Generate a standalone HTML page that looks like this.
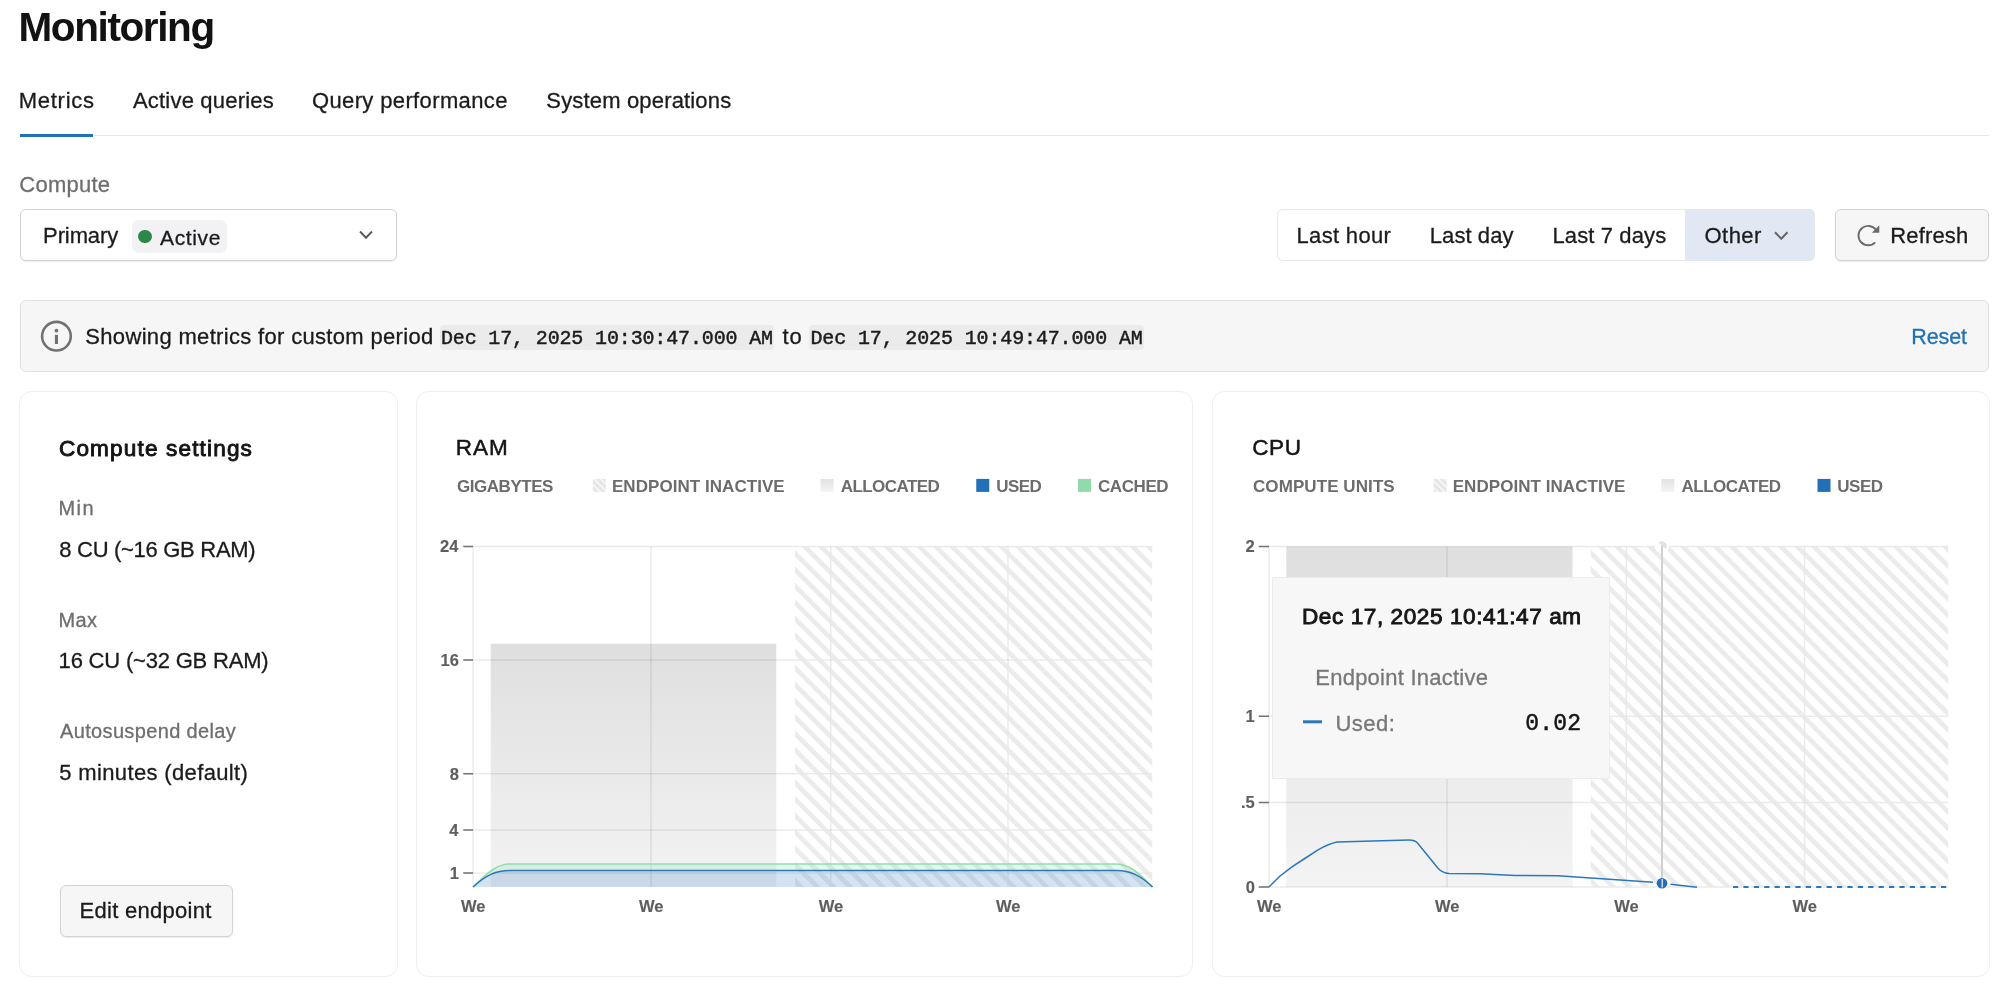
<!DOCTYPE html>
<html><head><meta charset="utf-8"><title>Monitoring</title>
<style>
html,body{margin:0;padding:0;background:#fff}
body{width:2000px;height:988px;position:relative;overflow:hidden;font-family:"Liberation Sans",sans-serif}
.t{position:absolute;white-space:nowrap;line-height:1;-webkit-text-stroke:0.3px currentColor}
#tx{position:absolute;left:0;top:0;width:2000px;height:988px;will-change:transform}
.b{position:absolute;box-sizing:border-box}
svg{position:absolute;left:0;top:0}
</style></head><body>
<div class="b" style="left:20px;top:134.5px;width:1968.5px;height:1.5px;background:#e6e6e6"></div>
<div class="b" style="left:19.5px;top:134px;width:73.5px;height:3px;background:#2170bb"></div>
<div class="b" style="left:19.5px;top:209px;width:377.5px;height:52px;border:1.5px solid #d3d3d3;border-radius:6px;background:#fff;box-shadow:0 1px 1.5px rgba(0,0,0,.07)"></div>
<div class="b" style="left:132px;top:220px;width:95px;height:33px;border-radius:7px;background:#f2f2f4"></div>
<div class="b" style="left:138.2px;top:229.5px;width:13.8px;height:13.8px;border-radius:50%;background:#2c8749"></div>
<div class="b" style="left:1277px;top:209px;width:538px;height:52px;border:1.5px solid #e7e7e7;border-radius:6px;background:#fff"></div>
<div class="b" style="left:1685px;top:209px;width:130px;height:52px;border-radius:0 6px 6px 0;background:#e1e8f4"></div>
<div class="b" style="left:1835px;top:209px;width:153.75px;height:52px;border:1.5px solid #d3d3d3;border-radius:6px;background:#f6f6f6;box-shadow:0 1px 1.5px rgba(0,0,0,.08)"></div>
<div class="b" style="left:19.5px;top:300px;width:1969.25px;height:71.5px;border:1.5px solid #dedede;border-radius:6px;background:#f6f6f6"></div>
<div class="b" style="left:440px;top:325px;width:333.75px;height:25px;border-radius:4px;background:#ebebeb"></div>
<div class="b" style="left:809.25px;top:325px;width:334.5px;height:25px;border-radius:4px;background:#ebebeb"></div>
<div class="b" style="left:19px;top:391px;width:379px;height:586.2px;border:1.7px solid #eeeeee;border-radius:12.5px"></div>
<div class="b" style="left:415.9px;top:391px;width:777.5px;height:586.2px;border:1.7px solid #eeeeee;border-radius:12.5px"></div>
<div class="b" style="left:1211.5px;top:391px;width:778.25px;height:586.2px;border:1.7px solid #eeeeee;border-radius:12.5px"></div>
<div class="b" style="left:59.5px;top:884.75px;width:173.25px;height:51.75px;border:1.5px solid #d3d3d3;border-radius:6px;background:#f6f6f6;box-shadow:0 1px 1.5px rgba(0,0,0,.08)"></div>
<svg width="2000" height="988" viewBox="0 0 2000 988">
<defs>
<pattern id="h1" patternUnits="userSpaceOnUse" width="11.59" height="11.59" patternTransform="translate(9 0) rotate(-45)"><rect x="0" y="0" width="4.6" height="11.59" fill="#e8e8e8" fill-opacity=".87"/></pattern>
<pattern id="h2" patternUnits="userSpaceOnUse" width="11.59" height="11.59" patternTransform="translate(1.9 0) rotate(-45)"><rect x="0" y="0" width="4.6" height="11.59" fill="#e8e8e8" fill-opacity=".87"/></pattern>
<pattern id="hs" patternUnits="userSpaceOnUse" width="4.7" height="4.7" patternTransform="translate(1.2 0) rotate(-45)"><rect x="0" y="0" width="1.15" height="4.7" fill="#fff"/></pattern>
<linearGradient id="ga" x1="0" y1="0" x2="0" y2="1"><stop offset="0" stop-color="#dfdfdf"/><stop offset="1" stop-color="#f3f3f3"/></linearGradient>
<linearGradient id="gs" x1="0" y1="0" x2="0" y2="1"><stop offset="0" stop-color="#e2e2e2"/><stop offset="1" stop-color="#f4f4f4"/></linearGradient>
</defs>
<rect x="490.75" y="643.75" width="285.5" height="243.25" fill="url(#ga)"/>
<line x1="473" y1="546.5" x2="1152.2" y2="546.5" stroke="rgba(0,0,0,.082)" stroke-width="1.5"/>
<line x1="473" y1="660" x2="1152.2" y2="660" stroke="rgba(0,0,0,.082)" stroke-width="1.5"/>
<line x1="473" y1="773.75" x2="1152.2" y2="773.75" stroke="rgba(0,0,0,.082)" stroke-width="1.5"/>
<line x1="473" y1="830" x2="1152.2" y2="830" stroke="rgba(0,0,0,.082)" stroke-width="1.5"/>
<line x1="473" y1="873" x2="1152.2" y2="873" stroke="rgba(0,0,0,.082)" stroke-width="1.5"/>
<line x1="473" y1="546.5" x2="473" y2="887" stroke="rgba(0,0,0,.082)" stroke-width="1.5"/>
<line x1="651" y1="546.5" x2="651" y2="887" stroke="rgba(0,0,0,.082)" stroke-width="1.5"/>
<line x1="830.75" y1="546.5" x2="830.75" y2="887" stroke="rgba(0,0,0,.082)" stroke-width="1.5"/>
<line x1="1008" y1="546.5" x2="1008" y2="887" stroke="rgba(0,0,0,.082)" stroke-width="1.5"/>
<line x1="463.25" y1="546.5" x2="473" y2="546.5" stroke="#777" stroke-width="1.6"/>
<line x1="463.25" y1="660" x2="473" y2="660" stroke="#777" stroke-width="1.6"/>
<line x1="463.25" y1="773.75" x2="473" y2="773.75" stroke="#777" stroke-width="1.6"/>
<line x1="463.25" y1="830" x2="473" y2="830" stroke="#777" stroke-width="1.6"/>
<line x1="463.25" y1="873" x2="473" y2="873" stroke="#777" stroke-width="1.6"/>
<rect x="795" y="546.5" width="357.2" height="340.5" fill="url(#h1)"/>
<path d="M473,887 C485,876 495,864 510,864 L1116,864 C1131,864 1141,876 1152.5,887 L1152.5,887 C1141,876 1131,870.6 1116,870.6 L510,870.6 C495,870.6 485,876 473,887 Z" fill="#8fdcaa" fill-opacity=".24"/>
<path d="M473,887 C485,876 495,870.6 510,870.6 L1116,870.6 C1131,870.6 1141,876 1152.5,887 Z" fill="#2271b8" fill-opacity=".2"/>
<path d="M473,887 C485,876 495,864 510,864 L1116,864 C1131,864 1141,876 1152.5,887" fill="none" stroke="#93dcad" stroke-width="1.6"/>
<path d="M473,887 C485,876 495,870.6 510,870.6 L1116,870.6 C1131,870.6 1141,876 1152.5,887" fill="none" stroke="#2b77bb" stroke-width="1.5"/>
<rect x="1286.25" y="546.5" width="286.25" height="340.5" fill="url(#ga)"/>
<line x1="1269" y1="546.5" x2="1948.25" y2="546.5" stroke="rgba(0,0,0,.082)" stroke-width="1.5"/>
<line x1="1269" y1="716.25" x2="1948.25" y2="716.25" stroke="rgba(0,0,0,.082)" stroke-width="1.5"/>
<line x1="1269" y1="802.5" x2="1948.25" y2="802.5" stroke="rgba(0,0,0,.082)" stroke-width="1.5"/>
<line x1="1269" y1="887" x2="1948.25" y2="887" stroke="rgba(0,0,0,.082)" stroke-width="1.5"/>
<line x1="1269" y1="546.5" x2="1269" y2="887" stroke="rgba(0,0,0,.082)" stroke-width="1.5"/>
<line x1="1447" y1="546.5" x2="1447" y2="887" stroke="rgba(0,0,0,.082)" stroke-width="1.5"/>
<line x1="1626.25" y1="546.5" x2="1626.25" y2="887" stroke="rgba(0,0,0,.082)" stroke-width="1.5"/>
<line x1="1804.5" y1="546.5" x2="1804.5" y2="887" stroke="rgba(0,0,0,.082)" stroke-width="1.5"/>
<line x1="1258.75" y1="546.5" x2="1269" y2="546.5" stroke="#777" stroke-width="1.6"/>
<line x1="1258.75" y1="716.25" x2="1269" y2="716.25" stroke="#777" stroke-width="1.6"/>
<line x1="1258.75" y1="802.5" x2="1269" y2="802.5" stroke="#777" stroke-width="1.6"/>
<line x1="1258.75" y1="887" x2="1269" y2="887" stroke="#777" stroke-width="1.6"/>
<rect x="1590.75" y="546.5" width="357.5" height="340.5" fill="url(#h2)"/>
<circle cx="1662" cy="546.2" r="7" fill="#fff"/><path d="M1662,546.2 L1658.6,542.6 A5,5 0 0 1 1666.3,548.7 Z" fill="#e2e2e2"/><line x1="1662" y1="546" x2="1662" y2="887" stroke="#d1d1d1" stroke-width="2"/>
<path d="M1269,887 L1280,876 L1292,866.8 L1304,859 L1318,849.8 C1324,846.5 1330,843.5 1337,842 L1409,840.1 C1413,840 1415,840.5 1417.5,843 L1438,868.2 C1441,871.5 1444,873 1449,873.4 L1480,873.7 L1515,875.5 L1558,875.8 L1653,882.2" fill="none" stroke="#2b77bb" stroke-width="1.5"/>
<path d="M1670.5,884.3 L1697,887.3" fill="none" stroke="#2b77bb" stroke-width="1.5"/>
<line x1="1733" y1="887" x2="1948" y2="887" stroke="#2b77bb" stroke-width="2.2" stroke-dasharray="5.2 5.2"/>
<circle cx="1662" cy="883.3" r="5.3" fill="#2271b8"/>
<line x1="1662.25" y1="879" x2="1662.25" y2="887.5" stroke="#c9d3de" stroke-width="1.6"/>
<rect x="592.75" y="478.9" width="13" height="13" fill="#e6e6e6"/><rect x="592.75" y="478.9" width="13" height="13" fill="url(#hs)"/>
<rect x="820.5" y="478.9" width="13" height="13" fill="url(#gs)"/>
<rect x="976.25" y="478.9" width="13" height="13" fill="#2271b8"/>
<rect x="1078" y="478.9" width="13" height="13" fill="#8fdcaa"/>
<rect x="1433.75" y="478.9" width="13" height="13" fill="#e6e6e6"/><rect x="1433.75" y="478.9" width="13" height="13" fill="url(#hs)"/>
<rect x="1661.25" y="478.9" width="13" height="13" fill="url(#gs)"/>
<rect x="1817.5" y="478.9" width="13" height="13" fill="#2271b8"/>
<polyline points="360,231.5 366,237.7 372,231.5" fill="none" stroke="#5c5c5c" stroke-width="2"/>
<polyline points="1775,232.3 1781.25,238.7 1787.5,232.3" fill="none" stroke="#666" stroke-width="2"/>
<circle cx="56.45" cy="336.2" r="14.35" fill="none" stroke="#727272" stroke-width="2.6"/><rect x="54.9" y="334.8" width="3.1" height="9.2" fill="#727272"/><circle cx="56.45" cy="330.6" r="1.9" fill="#727272"/>
<path d="M1875.84,229.63 A9.7,9.7 0 1 0 1875.18,242.34" fill="none" stroke="#6b6b6b" stroke-width="1.9"/><polygon points="1873.5,232 1878.6,232 1878.6,226.9" fill="#6b6b6b" stroke="#6b6b6b" stroke-width="1.4" stroke-linejoin="miter"/>
<line x1="1303" y1="721.8" x2="1322" y2="721.8" stroke="#2b77bb" stroke-width="3"/>
</svg>
<div class="b" style="left:1272px;top:577px;width:337.5px;height:202px;border:1px solid #ececec;background:#f7f7f7"></div>
<svg width="2000" height="988" viewBox="0 0 2000 988"><line x1="1303" y1="721.8" x2="1322" y2="721.8" stroke="#2b77bb" stroke-width="3"/></svg>
<div id="tx">
<div class="t" style="left:18.47px;top:6.92px;font-size:40.5px;letter-spacing:-1.385px;color:#121212;font-weight:700;-webkit-text-stroke:0;">Monitoring</div>
<div class="t" style="left:18.78px;top:90.28px;font-size:22px;letter-spacing:0.720px;color:#1b1b1b;">Metrics</div>
<div class="t" style="left:133.00px;top:90.28px;font-size:22px;letter-spacing:0.193px;color:#1b1b1b;">Active queries</div>
<div class="t" style="left:311.97px;top:90.28px;font-size:22px;letter-spacing:0.369px;color:#1b1b1b;">Query performance</div>
<div class="t" style="left:546.31px;top:90.28px;font-size:22px;letter-spacing:0.167px;color:#1b1b1b;">System operations</div>
<div class="t" style="left:19.27px;top:173.98px;font-size:22px;letter-spacing:0.259px;color:#6e6e6e;">Compute</div>
<div class="t" style="left:43.08px;top:224.88px;font-size:22px;letter-spacing:-0.109px;color:#1b1b1b;">Primary</div>
<div class="t" style="left:160.00px;top:226.72px;font-size:21px;letter-spacing:0.633px;color:#1b1b1b;">Active</div>
<div class="t" style="left:1296.53px;top:225.13px;font-size:22px;letter-spacing:0.325px;color:#1b1b1b;">Last hour</div>
<div class="t" style="left:1429.78px;top:225.13px;font-size:22px;letter-spacing:0.079px;color:#1b1b1b;">Last day</div>
<div class="t" style="left:1552.53px;top:225.13px;font-size:22px;letter-spacing:0.114px;color:#1b1b1b;">Last 7 days</div>
<div class="t" style="left:1704.47px;top:225.13px;font-size:22px;letter-spacing:0.467px;color:#1b1b1b;">Other</div>
<div class="t" style="left:1890.28px;top:225.13px;font-size:22px;letter-spacing:0.154px;color:#1b1b1b;">Refresh</div>
<div class="t" style="left:85.31px;top:326.18px;font-size:22px;letter-spacing:0.327px;color:#1b1b1b;">Showing metrics for custom period</div>
<div class="t" style="left:440.94px;top:328.92px;font-size:20px;letter-spacing:-0.145px;color:#1b1b1b;font-family:'Liberation Mono',monospace;-webkit-text-stroke:0.45px #1b1b1b;">Dec 17, 2025 10:30:47.000 AM</div>
<div class="t" style="left:782.50px;top:326.18px;font-size:22px;letter-spacing:0.794px;color:#1b1b1b;">to</div>
<div class="t" style="left:810.44px;top:328.92px;font-size:20px;letter-spacing:-0.136px;color:#1b1b1b;font-family:'Liberation Mono',monospace;-webkit-text-stroke:0.45px #1b1b1b;">Dec 17, 2025 10:49:47.000 AM</div>
<div class="t" style="left:1911.32px;top:326.60px;font-size:21.5px;letter-spacing:-0.140px;color:#2371b5;">Reset</div>
<div class="t" style="left:58.94px;top:437.67px;font-size:22.6px;letter-spacing:1.143px;color:#141414;-webkit-text-stroke:0.9px #141414;">Compute settings</div>
<div class="t" style="left:58.44px;top:498.07px;font-size:20px;letter-spacing:1.479px;color:#6e6e6e;">Min</div>
<div class="t" style="left:59.31px;top:538.63px;font-size:22px;letter-spacing:-0.299px;color:#1b1b1b;">8 CU (~16 GB RAM)</div>
<div class="t" style="left:58.44px;top:610.07px;font-size:20px;letter-spacing:0.390px;color:#6e6e6e;">Max</div>
<div class="t" style="left:58.62px;top:649.88px;font-size:22px;letter-spacing:-0.196px;color:#1b1b1b;">16 CU (~32 GB RAM)</div>
<div class="t" style="left:60.00px;top:721.07px;font-size:20px;letter-spacing:0.351px;color:#6e6e6e;">Autosuspend delay</div>
<div class="t" style="left:59.31px;top:761.88px;font-size:22px;letter-spacing:0.354px;color:#1b1b1b;">5 minutes (default)</div>
<div class="t" style="left:79.53px;top:899.88px;font-size:22px;letter-spacing:0.288px;color:#1b1b1b;">Edit endpoint</div>
<div class="t" style="left:455.74px;top:436.70px;font-size:22.5px;letter-spacing:1.013px;color:#141414;-webkit-text-stroke:0.5px #141414;">RAM</div>
<div class="t" style="left:456.97px;top:478.21px;font-size:17px;letter-spacing:-0.456px;color:#6c6c6c;font-weight:700;-webkit-text-stroke:0;">GIGABYTES</div>
<div class="t" style="left:611.94px;top:478.21px;font-size:17px;letter-spacing:0.054px;color:#6c6c6c;font-weight:700;-webkit-text-stroke:0;">ENDPOINT INACTIVE</div>
<div class="t" style="left:840.73px;top:478.21px;font-size:17px;letter-spacing:-0.557px;color:#6c6c6c;font-weight:700;-webkit-text-stroke:0;">ALLOCATED</div>
<div class="t" style="left:996.20px;top:478.21px;font-size:17px;letter-spacing:-0.532px;color:#6c6c6c;font-weight:700;-webkit-text-stroke:0;">USED</div>
<div class="t" style="left:1097.97px;top:478.21px;font-size:17px;letter-spacing:-0.421px;color:#6c6c6c;font-weight:700;-webkit-text-stroke:0;">CACHED</div>
<div class="t" style="left:1252.20px;top:436.95px;font-size:22.5px;letter-spacing:0.641px;color:#141414;-webkit-text-stroke:0.5px #141414;">CPU</div>
<div class="t" style="left:1252.97px;top:478.21px;font-size:17px;letter-spacing:0.084px;color:#6c6c6c;font-weight:700;-webkit-text-stroke:0;">COMPUTE UNITS</div>
<div class="t" style="left:1452.69px;top:478.21px;font-size:17px;letter-spacing:0.054px;color:#6c6c6c;font-weight:700;-webkit-text-stroke:0;">ENDPOINT INACTIVE</div>
<div class="t" style="left:1681.48px;top:478.21px;font-size:17px;letter-spacing:-0.494px;color:#6c6c6c;font-weight:700;-webkit-text-stroke:0;">ALLOCATED</div>
<div class="t" style="left:1837.20px;top:478.21px;font-size:17px;letter-spacing:-0.448px;color:#6c6c6c;font-weight:700;-webkit-text-stroke:0;">USED</div>
<div class="t" style="left:440.04px;top:538.33px;font-size:16.5px;color:#5e5e5e;font-weight:700;-webkit-text-stroke:0;-webkit-text-stroke:0.15px #5e5e5e;">24</div>
<div class="t" style="left:440.56px;top:651.83px;font-size:16.5px;color:#5e5e5e;font-weight:700;-webkit-text-stroke:0;-webkit-text-stroke:0.15px #5e5e5e;">16</div>
<div class="t" style="left:449.73px;top:765.58px;font-size:16.5px;color:#5e5e5e;font-weight:700;-webkit-text-stroke:0;-webkit-text-stroke:0.15px #5e5e5e;">8</div>
<div class="t" style="left:449.22px;top:821.83px;font-size:16.5px;color:#5e5e5e;font-weight:700;-webkit-text-stroke:0;-webkit-text-stroke:0.15px #5e5e5e;">4</div>
<div class="t" style="left:449.73px;top:864.83px;font-size:16.5px;color:#5e5e5e;font-weight:700;-webkit-text-stroke:0;-webkit-text-stroke:0.15px #5e5e5e;">1</div>
<div class="t" style="left:1245.48px;top:538.33px;font-size:16.5px;color:#5e5e5e;font-weight:700;-webkit-text-stroke:0;-webkit-text-stroke:0.15px #5e5e5e;">2</div>
<div class="t" style="left:1245.48px;top:708.08px;font-size:16.5px;color:#5e5e5e;font-weight:700;-webkit-text-stroke:0;-webkit-text-stroke:0.15px #5e5e5e;">1</div>
<div class="t" style="left:1240.90px;top:794.33px;font-size:16.5px;color:#5e5e5e;font-weight:700;-webkit-text-stroke:0;-webkit-text-stroke:0.15px #5e5e5e;">.5</div>
<div class="t" style="left:1245.74px;top:878.83px;font-size:16.5px;color:#5e5e5e;font-weight:700;-webkit-text-stroke:0;-webkit-text-stroke:0.15px #5e5e5e;">0</div>
<div class="t" style="left:460.98px;top:898.28px;font-size:16.5px;color:#5e5e5e;font-weight:700;-webkit-text-stroke:0;-webkit-text-stroke:0.15px #5e5e5e;">We</div>
<div class="t" style="left:638.98px;top:898.28px;font-size:16.5px;color:#5e5e5e;font-weight:700;-webkit-text-stroke:0;-webkit-text-stroke:0.15px #5e5e5e;">We</div>
<div class="t" style="left:818.73px;top:898.28px;font-size:16.5px;color:#5e5e5e;font-weight:700;-webkit-text-stroke:0;-webkit-text-stroke:0.15px #5e5e5e;">We</div>
<div class="t" style="left:995.98px;top:898.28px;font-size:16.5px;color:#5e5e5e;font-weight:700;-webkit-text-stroke:0;-webkit-text-stroke:0.15px #5e5e5e;">We</div>
<div class="t" style="left:1256.98px;top:898.28px;font-size:16.5px;color:#5e5e5e;font-weight:700;-webkit-text-stroke:0;-webkit-text-stroke:0.15px #5e5e5e;">We</div>
<div class="t" style="left:1434.98px;top:898.28px;font-size:16.5px;color:#5e5e5e;font-weight:700;-webkit-text-stroke:0;-webkit-text-stroke:0.15px #5e5e5e;">We</div>
<div class="t" style="left:1614.23px;top:898.28px;font-size:16.5px;color:#5e5e5e;font-weight:700;-webkit-text-stroke:0;-webkit-text-stroke:0.15px #5e5e5e;">We</div>
<div class="t" style="left:1792.48px;top:898.28px;font-size:16.5px;color:#5e5e5e;font-weight:700;-webkit-text-stroke:0;-webkit-text-stroke:0.15px #5e5e5e;">We</div>
<div class="t" style="left:1301.98px;top:605.87px;font-size:22.6px;letter-spacing:0.557px;color:#161616;-webkit-text-stroke:0.9px #161616;">Dec 17, 2025 10:41:47 am</div>
<div class="t" style="left:1315.28px;top:666.68px;font-size:22px;letter-spacing:0.239px;color:#777;">Endpoint Inactive</div>
<div class="t" style="left:1335.38px;top:712.68px;font-size:22px;letter-spacing:0.535px;color:#777;">Used:</div>
<div class="t" style="left:1525.17px;top:712.87px;font-size:23px;letter-spacing:0.234px;color:#161616;font-family:'Liberation Mono',monospace;-webkit-text-stroke:0.5px #161616;">0.02</div>
</div>
</body></html>
